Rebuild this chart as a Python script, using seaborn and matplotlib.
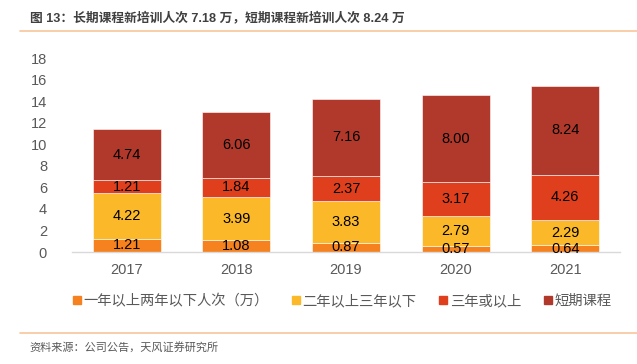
import matplotlib
matplotlib.use("Agg")
import matplotlib.pyplot as plt
import seaborn as sns
import numpy as np
import pandas as pd
from matplotlib.lines import Line2D

years = ["2017", "2018", "2019", "2020", "2021"]
series_names = ["一年以上两年以下人次（万）", "二年以上三年以下", "三年或以上", "短期课程"]
s1 = [1.21, 1.08, 0.87, 0.57, 0.64]
s2 = [4.22, 3.99, 3.83, 2.79, 2.29]
s3 = [1.21, 1.84, 2.37, 3.17, 4.26]
s4 = [4.74, 6.06, 7.16, 8.00, 8.24]
yticks = [0, 2, 4, 6, 8, 10, 12, 14, 16, 18]
colors = ["#F5821F", "#FBB92A", "#E03F1D", "#B0392C"]

sns.set_theme(style="white")
plt.rcParams["font.family"] = ["Liberation Sans", "Noto Sans CJK SC"]

fig = plt.figure(figsize=(6.37, 3.64), dpi=100)
ax = fig.add_axes([72/637, 1-252/364, 548/637, 194/364])

bottom = np.zeros(len(years))
for name, vals, c in zip(series_names, [s1, s2, s3, s4], colors):
    df = pd.DataFrame({"year": years, "v": vals})
    sns.barplot(data=df, x="year", y="v", color=c, ax=ax, bottom=bottom,
                width=0.62, edgecolor="white", linewidth=0.4, saturation=1)
    bottom = bottom + np.array(vals)

for cont in ax.containers:
    ax.bar_label(cont, labels=[f"{b.get_height():.2f}" for b in cont],
                 label_type="center", fontsize=10.5, color="black")

if ax.get_legend() is not None:
    ax.get_legend().remove()

ax.set_ylim(0, 18)
ax.set_yticks(yticks)
ax.set_xlim(-0.5, 4.5)
ax.set_xlabel("")
ax.set_ylabel("")
for s in ["top", "right", "left"]:
    ax.spines[s].set_visible(False)
ax.spines["bottom"].set_color("#D9D9D9")
ax.spines["bottom"].set_linewidth(1)
ax.tick_params(axis="y", colors="#595959", labelsize=10.5, length=0, pad=18)
ax.tick_params(axis="x", colors="#595959", labelsize=10.5, length=0, pad=8)

handles = [Line2D([], [], marker="s", linestyle="", color=c, markersize=6) for c in colors]
fig.legend(handles, series_names, loc="center", bbox_to_anchor=(0.536, 1-301/364),
           ncol=4, frameon=False, fontsize=10.3, labelcolor="#595959",
           handletextpad=0.05, columnspacing=1.5, handlelength=0.8)

fig.text(30/637, 1-18/364, "图 13：长期课程新培训人次 7.18 万，短期课程新培训人次 8.24 万",
         fontsize=9.2, fontweight="bold", color="#404040", va="center", ha="left")
fig.add_artist(Line2D([20/637, 1], [1-31/364, 1-31/364], color="#F8C59A", linewidth=1.2,
                      transform=fig.transFigure))
fig.add_artist(Line2D([20/637, 1], [1-333/364, 1-333/364], color="#F8C59A", linewidth=1.2,
                      transform=fig.transFigure))
fig.text(29/637, 1-347/364, "资料来源：公司公告，天风证券研究所",
         fontsize=8, color="#595959", va="center", ha="left")

fig.savefig("out.png", dpi=100)
